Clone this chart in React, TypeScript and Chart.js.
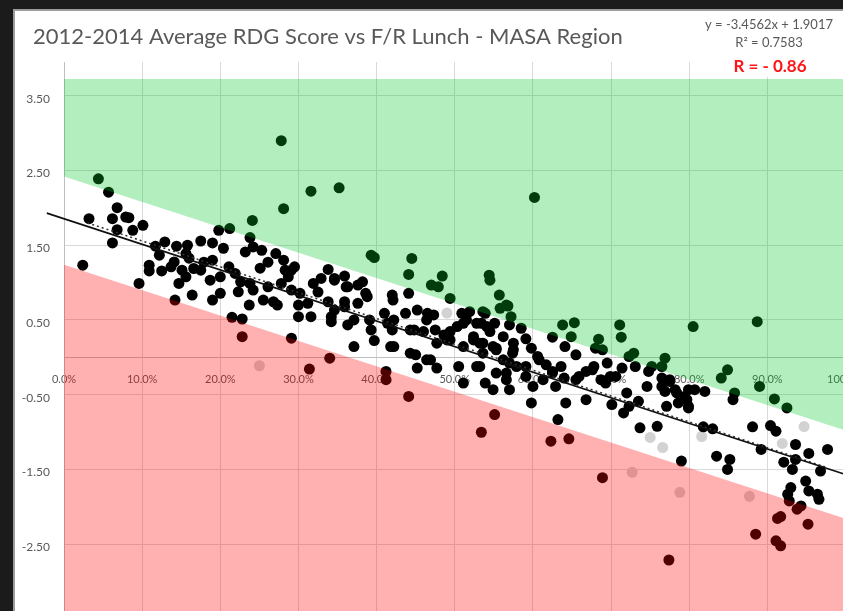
import React, { useEffect, useRef } from "react";
import { Chart, registerables } from "chart.js";

Chart.register(...registerables);

const TITLE = "2012-2014 Average RDG Score vs F/R Lunch - MASA Region";
const EQUATION = "y = -3.4562x + 1.9017";
const R_SQUARED = "R\u00B2 = 0.7583";
const R_TEXT = "R = - 0.86";

const xTicks = [0, 0.1, 0.2, 0.3, 0.4, 0.5, 0.6, 0.7, 0.8, 0.9, 1.0];
const yTicks = [-3.5, -2.5, -1.5, -0.5, 0.5, 1.5, 2.5, 3.5];
const xRange = [0, 1];
const yRange = [-3.5, 3.953];

// shaded zones (value coordinates)
const upperBand = [
  { x: 0, y: 2.42 },
  { x: 1, y: -0.98 },
];
const upperBandTop = 3.727;
const lowerBand = [
  { x: 0, y: 1.24 },
  { x: 1, y: -2.16 },
];

// drawn regression line (solid) and Excel trendline (dotted)
const solidLine = [
  { x: -0.022, y: 1.93 },
  { x: 1.0, y: -1.57 },
];
const trendLine = [
  { x: 0.03, y: 1.8 },
  { x: 0.975, y: -1.47 },
];

// schools: [F/R lunch share, average RDG score]
const schoolPoints: [number, number][] = [
  [0.044, 2.389], [0.057, 2.211], [0.068, 2.003], [0.032, 1.856], [0.062, 1.856], [0.079, 1.877], [0.083, 1.869],
  [0.068, 1.709], [0.088, 1.7], [0.101, 1.767], [0.062, 1.531], [0.024, 1.233], [0.096, 0.989], [0.117, 1.487],
  [0.129, 1.544], [0.144, 1.487], [0.158, 1.5], [0.175, 1.557], [0.19, 1.531], [0.156, 1.389], [0.141, 1.277],
  [0.109, 1.233], [0.109, 1.157], [0.125, 1.157], [0.137, 1.211], [0.151, 1.167], [0.166, 1.189], [0.175, 1.167],
  [0.147, 0.989], [0.156, 1.077], [0.19, 1.3], [0.198, 1.7], [0.212, 1.723], [0.164, 0.833], [0.142, 0.767],
  [0.187, 1.033], [0.2, 1.077], [0.19, 0.767], [0.2, 0.856], [0.211, 1.211], [0.219, 1.123], [0.226, 1.011],
  [0.223, 0.877], [0.238, 0.989], [0.237, 0.7], [0.215, 0.536], [0.228, 0.513], [0.228, 0.277], [0.241, 1.833],
  [0.238, 1.603], [0.232, 1.411], [0.242, 1.477], [0.253, 1.433], [0.278, 2.9], [0.281, 1.989], [0.271, 1.389],
  [0.281, 1.3], [0.261, 0.944], [0.268, 0.744], [0.273, 0.7], [0.291, 0.256], [0.287, 1.077], [0.291, 0.9],
  [0.283, 1.167], [0.295, 1.211],
  [0.16, 1.327], [0.179, 1.273], [0.122, 1.367], [0.204, 1.46], [0.251, 1.193], [0.261, 1.273], [0.242, 0.9],
  [0.255, 0.767], [0.3, 0.7], [0.325, 0.873],
  [0.316, 2.224], [0.352, 2.269], [0.393, 1.367], [0.397, 1.336], [0.445, 1.323], [0.441, 1.109], [0.441, 0.856],
  [0.42, 0.833], [0.421, 0.767], [0.47, 0.967], [0.479, 0.944], [0.484, 1.087], [0.494, 0.789], [0.544, 1.1],
  [0.545, 1.033], [0.557, 0.833], [0.566, 0.7], [0.572, 0.544], [0.338, 1.176], [0.329, 1.056], [0.346, 1.056],
  [0.359, 1.087], [0.361, 0.944], [0.376, 0.967], [0.382, 1.011], [0.386, 0.856], [0.376, 0.723], [0.359, 0.744],
  [0.338, 0.744], [0.319, 0.989], [0.302, 0.856], [0.312, 0.723], [0.291, 1.167], [0.278, 0.989], [0.3, 0.544],
  [0.316, 0.544], [0.342, 0.477], [0.346, 0.633], [0.363, 0.433], [0.371, 0.144], [0.397, 0.224], [0.391, 0.5],
  [0.41, 0.589], [0.414, 0.456], [0.42, 0.367], [0.418, 0.144], [0.437, 0.589], [0.452, 0.633], [0.465, 0.589],
  [0.473, 0.567], [0.443, 0.367], [0.46, 0.344], [0.475, 0.367], [0.486, 0.3], [0.494, 0.344], [0.509, 0.589],
  [0.519, 0.611], [0.511, 0.456], [0.528, 0.456], [0.539, 0.589], [0.541, 0.411], [0.551, 0.456], [0.562, 0.277],
  [0.575, 0.1], [0.553, 0.1], [0.536, 0.189], [0.524, 0.277], [0.511, 0.144], [0.494, 0.233], [0.477, 0.189],
  [0.469, -0.033], [0.477, -0.144], [0.45, 0.033], [0.452, -0.144], [0.505, -0.123], [0.511, -0.344], [0.528, -0.123],
  [0.539, -0.344], [0.549, -0.433], [0.566, -0.3], [0.57, -0.077], [0.34, -0.011], [0.314, -0.157], [0.412, -0.189],
  [0.412, -0.3], [0.441, -0.523], [0.551, -0.767],
  [0.346, 1.033], [0.363, 0.944], [0.388, 0.811], [0.359, 0.677], [0.342, 0.544], [0.371, 0.5], [0.393, 0.367],
  [0.422, 0.5], [0.448, 0.367], [0.464, 0.5], [0.49, 0.233], [0.503, 0.411], [0.515, 0.5], [0.524, 0.233],
  [0.536, 0.056], [0.549, 0.144], [0.562, -0.033], [0.574, 0.056], [0.591, -0.123], [0.608, -0.033], [0.625, -0.211],
  [0.659, -0.256], [0.676, -0.167], [0.693, -0.344], [0.706, -0.256], [0.464, -0.033], [0.443, 0.056], [0.422, 0.144],
  [0.558, 0.656], [0.568, 0.687], [0.536, 0.611], [0.534, 0.456], [0.545, 0.344], [0.57, 0.433], [0.585, 0.389],
  [0.591, 0.247], [0.625, 0.269], [0.638, 0.433], [0.653, 0.464], [0.649, 0.277], [0.641, 0.144], [0.655, 0.033],
  [0.684, 0.243], [0.68, 0.123], [0.689, 0.1], [0.711, 0.433], [0.713, 0.269], [0.532, 0.189], [0.553, 0.123],
  [0.575, 0.189], [0.598, 0.123], [0.606, 0.011], [0.617, -0.1], [0.625, -0.189], [0.636, -0.123], [0.64, -0.277],
  [0.629, -0.389], [0.655, -0.3], [0.668, -0.189], [0.678, -0.123], [0.695, -0.077], [0.699, -0.256], [0.687, -0.3],
  [0.714, -0.144], [0.723, 0.011], [0.729, 0.056], [0.731, -0.123], [0.748, -0.189], [0.752, -0.123], [0.769, -0.011],
  [0.765, -0.123], [0.775, -0.3], [0.765, -0.389], [0.746, -0.389], [0.782, -0.433], [0.794, -0.523], [0.786, -0.611],
  [0.799, -0.656], [0.805, 0.411], [0.771, -0.656], [0.759, -0.923], [0.737, -0.944], [0.735, -0.589], [0.72, -0.477],
  [0.716, -0.744], [0.701, -0.633], [0.723, -0.656], [0.668, -0.567], [0.642, -0.611], [0.598, -0.611], [0.57, -0.433],
  [0.532, -0.123], [0.553, -0.211], [0.579, -0.123], [0.566, -0.211], [0.591, -0.256], [0.6, -0.389], [0.613, -0.3],
  [0.632, -0.833], [0.534, -1.003], [0.623, -1.123], [0.646, -1.091], [0.689, -1.611], [0.79, -1.389],
  [0.887, 0.477], [0.849, -0.167], [0.841, -0.277], [0.765, -0.277], [0.775, -0.323], [0.769, -0.456], [0.784, -0.477],
  [0.799, -0.433], [0.807, -0.433], [0.82, -0.456], [0.797, -0.567], [0.799, -0.677], [0.858, -0.477], [0.856, -0.567],
  [0.89, -0.389], [0.909, -0.557], [0.925, -0.677], [0.818, -0.931], [0.83, -0.957], [0.881, -0.931], [0.904, -0.913],
  [0.911, -0.989], [0.892, -1.233], [0.936, -1.167], [0.953, -1.287], [0.977, -1.233], [0.921, -1.403], [0.936, -1.367],
  [0.932, -1.5], [0.968, -1.523], [0.835, -1.323], [0.852, -1.367], [0.849, -1.5], [0.949, -1.656], [0.93, -1.744],
  [0.926, -1.833], [0.928, -1.923], [0.953, -1.789], [0.964, -1.833], [0.966, -1.9], [0.943, -1.989], [0.938, -2.033],
  [0.917, -2.131], [0.913, -2.157], [0.952, -2.233], [0.885, -2.367], [0.911, -2.456], [0.917, -2.523], [0.774, -2.713],
  [0.602, 2.14],
];

// faint (light grey) markers
const faintPoints: [number, number][] = [
  [0.25, -0.113], [0.49, 0.593], [0.75, -1.073], [0.766, -1.207], [0.788, -1.807],
  [0.877, -1.86], [0.947, -0.927], [0.919, -1.153], [0.727, -1.54], [0.816, -1.06],
];

const toXY = (pts: [number, number][]) => pts.map(([x, y]) => ({ x, y }));

const framePlugin = {
  id: "frame",
  beforeDraw(chart: any) {
    const { ctx, width, height } = chart;
    ctx.save();
    ctx.fillStyle = "#1b1b1b";
    ctx.fillRect(0, 0, width, height);
    ctx.fillStyle = "#9c9c9c";
    ctx.fillRect(13, 9, width, height);
    ctx.fillStyle = "#ffffff";
    ctx.fillRect(15, 11, width, height);
    ctx.restore();
  },
};

const textPlugin = {
  id: "chartTexts",
  afterDraw(chart: any) {
    const { ctx } = chart;
    ctx.save();
    ctx.textBaseline = "middle";
    ctx.textAlign = "left";
    ctx.fillStyle = "#595959";
    ctx.font = "22px Lato";
    ctx.fillText(TITLE, 33, 37);

    ctx.textAlign = "center";
    ctx.font = "13px Lato";
    ctx.fillText(EQUATION, 769, 25);
    ctx.fillText(R_SQUARED, 769, 43);
    ctx.fillStyle = "#ffffff";
    ctx.fillRect(732, 57, 78, 20);
    ctx.fillStyle = "#ff1515";
    ctx.font = "bold 17px Lato";
    ctx.fillText(R_TEXT, 770, 67);
    ctx.restore();
  },
};

export default function App() {
  const ref = useRef<HTMLCanvasElement>(null);

  useEffect(() => {
    if (!ref.current) return;
    const chart = new Chart(ref.current, {
      type: "scatter",
      data: {
        datasets: [
          {
            type: "line",
            label: "above",
            data: upperBand,
            fill: { value: upperBandTop },
            backgroundColor: "rgba(0,200,40,0.30)",
            borderColor: "rgba(0,0,0,0)",
            borderWidth: 0,
            pointRadius: 0,
            order: 0,
          } as any,
          {
            type: "line",
            label: "below",
            data: lowerBand,
            fill: "start",
            backgroundColor: "rgba(255,0,0,0.31)",
            borderColor: "rgba(0,0,0,0)",
            borderWidth: 0,
            pointRadius: 0,
            order: 0,
          } as any,
          {
            type: "line",
            label: "line",
            data: solidLine,
            borderColor: "#111111",
            borderWidth: 1.6,
            pointRadius: 0,
            fill: false,
            clip: false,
            order: 1,
          } as any,
          {
            type: "line",
            label: "trend",
            data: trendLine,
            borderColor: "#333333",
            borderWidth: 1.5,
            borderDash: [2, 3],
            pointRadius: 0,
            fill: false,
            order: 1,
          } as any,
          {
            label: "schools",
            data: toXY(schoolPoints),
            backgroundColor: "#000000",
            borderWidth: 0,
            pointRadius: 5.5,
            order: 2,
          },
          {
            label: "faint",
            data: toXY(faintPoints),
            backgroundColor: "#d2d2d2",
            borderWidth: 0,
            pointRadius: 5.5,
            order: 3,
          },
        ],
      },
      options: {
        responsive: false,
        animation: false,
        events: [],
        layout: { padding: { left: 15, right: 28, top: 62, bottom: 20 } },
        plugins: {
          legend: { display: false },
          tooltip: { enabled: false },
          title: { display: false },
        },
        scales: {
          x: {
            type: "linear",
            position: { y: 0 } as any,
            min: xRange[0],
            max: xRange[1],
            afterBuildTicks: (s: any) => {
              s.ticks = xTicks.map((v) => ({ value: v }));
            },
            afterFit: (s: any) => {
              s.height = 0;
            },
            ticks: {
              color: "#595959",
              font: { family: "Lato", size: 11 },
              padding: 16,
              maxRotation: 0,
              autoSkip: false,
              callback: (v: any) => (Number(v) * 100).toFixed(1) + "%",
            },
            grid: { color: "#d9d9d9", lineWidth: 1, drawTicks: false },
            border: { display: true, color: "#bfbfbf", width: 1 },
          },
          y: {
            type: "linear",
            min: yRange[0],
            max: yRange[1],
            afterBuildTicks: (s: any) => {
              s.ticks = yTicks.map((v) => ({ value: v }));
            },
            afterFit: (s: any) => {
              s.width = 49;
            },
            ticks: {
              color: "#595959",
              font: { family: "Lato", size: 12 },
              padding: 14,
              labelOffset: 3,
              autoSkip: false,
              callback: (v: any) => Number(v).toFixed(2),
            },
            grid: { color: "#d9d9d9", lineWidth: 1, drawTicks: false },
            border: { display: true, color: "#bfbfbf", width: 1 },
          },
        },
      },
      plugins: [framePlugin, textPlugin],
    } as any);
    return () => chart.destroy();
  }, []);

  return (
    <div
      style={{
        position: "fixed",
        left: 0,
        top: 0,
        width: 843,
        height: 611,
        overflow: "hidden",
        background: "#1b1b1b",
      }}
    >
      <canvas
        ref={ref}
        width={880}
        height={640}
        style={{ position: "absolute", left: 0, top: 0, width: 880, height: 640 }}
      />
    </div>
  );
}
